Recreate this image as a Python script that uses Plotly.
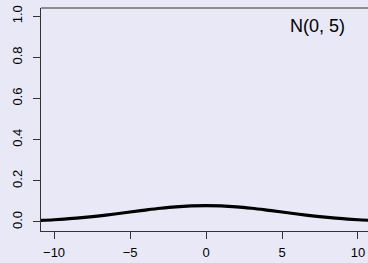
import plotly.graph_objects as go

# Density of N(0, 5)
x_vals = [-11, -10, -9, -8, -7, -6, -5, -4, -3, -2, -1, 0, 1, 2, 3, 4, 5, 6, 7, 8, 9, 10, 11]
density = [0.0071, 0.0108, 0.0158, 0.0222, 0.0299, 0.0388, 0.0484, 0.0579, 0.0666, 0.0737, 0.0782,
           0.0798,
           0.0782, 0.0737, 0.0666, 0.0579, 0.0484, 0.0388, 0.0299, 0.0222, 0.0158, 0.0108, 0.0071]
x_ticks = [-10, -5, 0, 5, 10]
y_ticks = [0.0, 0.2, 0.4, 0.6, 0.8, 1.0]
y_tick_text = ["0.0", "0.2", "0.4", "0.6", "0.8", "1.0"]
label = "N(0, 5)"

bg = "#E8E8F6"
font_family = "Liberation Sans, Arial, sans-serif"

fig = go.Figure()
fig.add_trace(go.Scatter(x=x_vals, y=density, mode="lines",
                         line=dict(color="black", width=3.2, shape="spline"),
                         showlegend=False, hoverinfo="skip"))

fig.update_layout(
    width=368, height=263,
    margin=dict(l=41, r=0, t=8, b=32),
    paper_bgcolor=bg, plot_bgcolor=bg,
    font=dict(family=font_family, size=13, color="black"),
    xaxis=dict(range=[-10.86, 10.66], tickvals=x_ticks, ticks="outside", ticklen=7,
               tickwidth=1, tickcolor="#333", showgrid=False, zeroline=False,
               showline=True, linecolor="#333", linewidth=1, automargin=False,
               ticklabelstandoff=2,
               tickfont=dict(size=13, family=font_family)),
    yaxis=dict(range=[-0.044, 1.04], tickvals=y_ticks, ticktext=y_tick_text,
               ticks="outside", ticklen=7, tickwidth=1, tickcolor="#333",
               showgrid=False, zeroline=False, showline=True, linecolor="#333",
               linewidth=1, tickangle=-90, automargin=False, ticklabelstandoff=6,
               tickfont=dict(size=13, family=font_family)),
    shapes=[dict(type="line", xref="paper", yref="paper", x0=0, x1=1, y0=1, y1=1,
                 line=dict(color="#333", width=1))],
    annotations=[dict(text=label, xref="paper", yref="paper", x=0.935, y=0.975,
                      xanchor="right", yanchor="top", showarrow=False,
                      font=dict(size=18, family=font_family, color="black"))],
)

fig.write_html(
    "out.html",
    config={"displayModeBar": False, "staticPlot": True},
    post_script="document.body.style.margin='0';document.body.style.overflow='hidden';"
                "document.body.style.background='" + bg + "';",
)
